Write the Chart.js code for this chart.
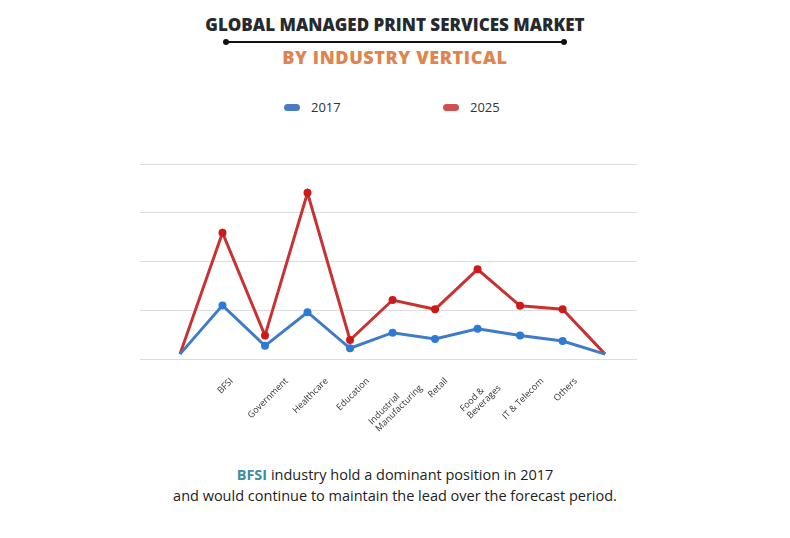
<!DOCTYPE html>
<html>
  <head>
    <title>Global Managed Print Services Market</title>
    <script src="https://cdn.jsdelivr.net/npm/chart.js"></script>
    <style>
      body {
        margin: 0;
        width: 790px;
        height: 538px;
        background: #fff;
        font-family: "Open Sans", Arial, sans-serif;
        position: relative;
        overflow: hidden;
      }
      .title {
        position: absolute;
        top: 13px;
        left: 0;
        width: 790px;
        text-align: center;
        font-weight: 800;
        font-size: 17px;
        color: #262a2e;
      }
      .rule {
        position: absolute;
        top: 41px;
        left: 226px;
        width: 338px;
        height: 2px;
        background: #111;
      }
      .rule:before,
      .rule:after {
        content: "";
        position: absolute;
        top: -2px;
        width: 6px;
        height: 6px;
        border-radius: 50%;
        background: #111;
      }
      .rule:before { left: -3px; }
      .rule:after { right: -3px; }
      .subtitle {
        position: absolute;
        top: 45px;
        left: 0;
        width: 790px;
        text-align: center;
        font-weight: 800;
        font-size: 18px;
        letter-spacing: 0.6px;
        color: #e0844e;
      }
      .legend span {
        position: absolute;
        font-size: 13px;
        color: #333;
        top: 98px;
      }
      .legend i {
        position: absolute;
        top: 104px;
        width: 16px;
        height: 7px;
        border-radius: 4px;
      }
      #chart {
        position: absolute;
        top: 130px;
        left: 0;
      }
      .note {
        position: absolute;
        top: 464px;
        left: 0;
        width: 790px;
        text-align: center;
        font-size: 14.5px;
        line-height: 21px;
        color: #222;
      }
      .note b { color: #3a8fa0; }
    </style>
  </head>
  <body>
    <div class="title">GLOBAL MANAGED PRINT SERVICES MARKET</div>
    <div class="rule"></div>
    <div class="subtitle">BY INDUSTRY VERTICAL</div>
    <div class="legend">
      <i style="left: 284px; background: #4a7cc4"></i><span style="left: 311px">2017</span>
      <i style="left: 443px; background: #d05050"></i><span style="left: 470px">2025</span>
    </div>
    <canvas id="chart" width="790" height="310"></canvas>
    <div class="note">
      <b>BFSI</b> industry hold a dominant position in 2017<br />
      and would continue to maintain the lead over the forecast period.
    </div>

    <script>
      const categories = [
        "",
        "BFSI",
        "Government",
        "Healthcare",
        "Education",
        ["Industrial", "Manufacturing"],
        "Retail",
        ["Food &", "Beverages"],
        "IT & Telecom",
        "Others",
        "",
      ];
      const values2017 = [0.1, 1.1, 0.27, 0.96, 0.22, 0.54, 0.41, 0.62, 0.48, 0.37, 0.1];
      const values2025 = [0.1, 2.59, 0.48, 3.41, 0.39, 1.21, 1.02, 1.84, 1.09, 1.02, 0.1];

      const dots = categories.map((c, i) => (i === 0 || i === categories.length - 1 ? 0 : 4));
      const toPoints = (arr) => arr.map((v, i) => ({ x: i, y: v }));

      // tick labels turned 45deg and centred under their tick
      const centredLabels = {
        id: "centredLabels",
        afterDraw(chart) {
          const ctx = chart.ctx;
          const x = chart.scales.x;
          const top = x.top + 17;
          const lh = 10;
          ctx.save();
          ctx.font = "9px 'Open Sans'";
          ctx.fillStyle = "#333";
          ctx.textAlign = "left";
          ctx.textBaseline = "middle";
          categories.forEach((c, i) => {
            if (!c) return;
            const lines = Array.isArray(c) ? c : [c];
            const w = Math.max(...lines.map((l) => ctx.measureText(l).width));
            const h = lines.length * lh;
            const cx = x.getPixelForValue(i) + 3;
            const cy = top + (w + h) * 0.354;
            ctx.save();
            ctx.translate(cx, cy);
            ctx.rotate(-Math.PI / 4);
            lines.forEach((l, j) => ctx.fillText(l, -w / 2, -h / 2 + lh * (j + 0.5)));
            ctx.restore();
          });
          ctx.restore();
        },
      };

      new Chart(document.getElementById("chart").getContext("2d"), {
        type: "line",
        data: {
          datasets: [
            {
              label: "2017",
              data: toPoints(values2017),
              borderColor: "#3f7cc8",
              backgroundColor: "#2f79d6",
              pointBackgroundColor: "#2f79d6",
              pointBorderWidth: 0,
              borderWidth: 3,
              pointRadius: dots,
              tension: 0,
            },
            {
              label: "2025",
              data: toPoints(values2025),
              borderColor: "#c83232",
              backgroundColor: "#cc1a1a",
              pointBackgroundColor: "#cc1a1a",
              pointBorderWidth: 0,
              borderWidth: 3,
              pointRadius: dots,
              tension: 0,
            },
          ],
        },
        options: {
          responsive: false,
          animation: false,
          clip: false,
          layout: { padding: { top: 34, left: 140, right: 153, bottom: 0 } },
          plugins: { legend: { display: false }, tooltip: { enabled: false } },
          scales: {
            x: {
              type: "linear",
              min: -0.94,
              max: 10.75,
              grid: { display: false },
              border: { display: false },
              ticks: { display: false },
              afterFit: (s) => {
                s.height = 81;
              },
            },
            y: {
              min: 0,
              max: 4,
              ticks: { display: false, stepSize: 1 },
              grid: { color: "#dcdcdc", lineWidth: 1, drawTicks: false },
              border: { display: false },
              afterFit: (s) => {
                s.width = 0;
              },
            },
          },
        },
        plugins: [centredLabels],
      });
    </script>
  </body>
</html>
